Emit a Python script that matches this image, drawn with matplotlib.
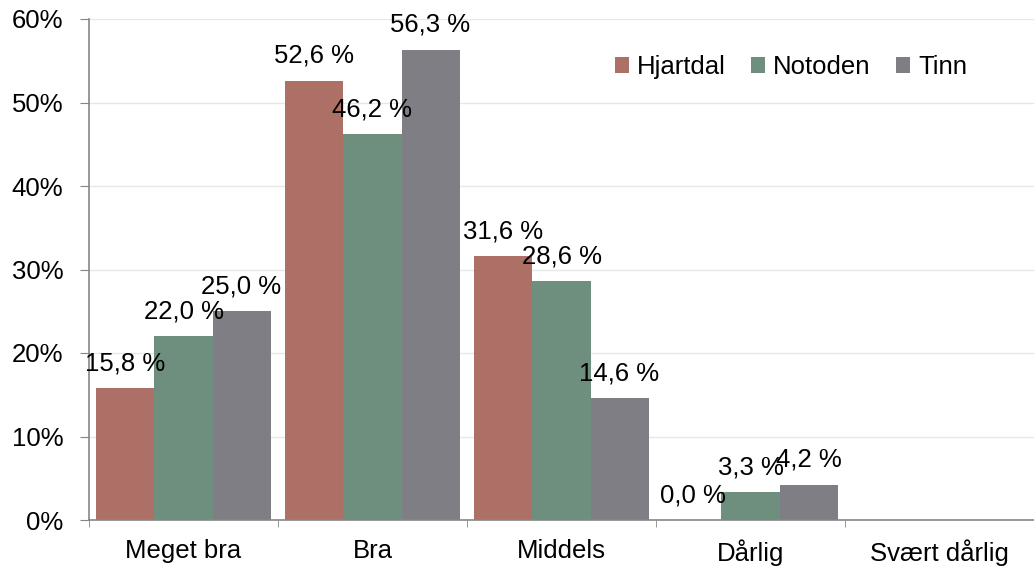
import matplotlib
matplotlib.use("Agg")
import matplotlib.pyplot as plt
import numpy as np
from matplotlib.ticker import FixedLocator, PercentFormatter

categories = ["Meget bra", "Bra", "Middels", "Dårlig", "Svært dårlig"]
series_names = ["Hjartdal", "Notoden", "Tinn"]
hjartdal = [15.8, 52.6, 31.6, 0.0, None]
notoden = [22.0, 46.2, 28.6, 3.3, None]
tinn = [25.0, 56.3, 14.6, 4.2, None]
colors = ["#AD7066", "#6E8F7E", "#7F7E84"]

plt.rcParams['font.family'] = ['Liberation Sans', 'DejaVu Sans']
FS = 18.5

fig = plt.figure(figsize=(10.34, 5.67), dpi=100)
ax = fig.add_axes([89/1034, 1-520/567, 1-89/1034, (520-19)/567])

x = np.arange(len(categories))
w = 0.307
for i, (name, vals, c) in enumerate(zip(series_names, [hjartdal, notoden, tinn], colors)):
    xs = [xi + (i-1)*w for xi, v in zip(x, vals) if v is not None]
    vs = [v for v in vals if v is not None]
    ax.bar(xs, vs, width=w, color=c, label=name, zorder=2)
    for xx, v in zip(xs, vs):
        ax.text(xx, v + 2.15, f"{v:.1f} %".replace(".", ","), ha="center", va="baseline",
                fontsize=FS, color="black", zorder=3)

ax.set_xlim(-0.5, len(categories)-0.5)
ax.set_ylim(0, 60)
ax.set_yticks(range(0, 61, 10))
ax.yaxis.set_major_formatter(PercentFormatter(decimals=0))
ax.set_xticks(x)
ax.set_xticklabels(categories)
ax.xaxis.set_minor_locator(FixedLocator(np.arange(-0.5, len(categories), 1.0)))
ax.tick_params(axis="x", which="major", length=0, pad=14, labelsize=FS)
ax.tick_params(axis="x", which="minor", length=5, color="#868686", direction="out")
ax.tick_params(axis="y", length=6.5, color="#868686", direction="out", labelsize=FS, pad=12)
ax.grid(axis="y", color="#E3E8E8", linewidth=1, zorder=0)
ax.set_axisbelow(True)
for s in ["top", "right"]:
    ax.spines[s].set_visible(False)
for s in ["left", "bottom"]:
    ax.spines[s].set_color("#868686")
    ax.spines[s].set_linewidth(1.2)

ax.legend(loc="center right", bbox_to_anchor=((967-89)/945, (520-67)/501), ncol=3, frameon=False,
          fontsize=FS, handlelength=0.55, handleheight=0.55, handletextpad=0.3,
          columnspacing=1.0, borderpad=0, borderaxespad=0)

fig.savefig("out.png", dpi=100)
